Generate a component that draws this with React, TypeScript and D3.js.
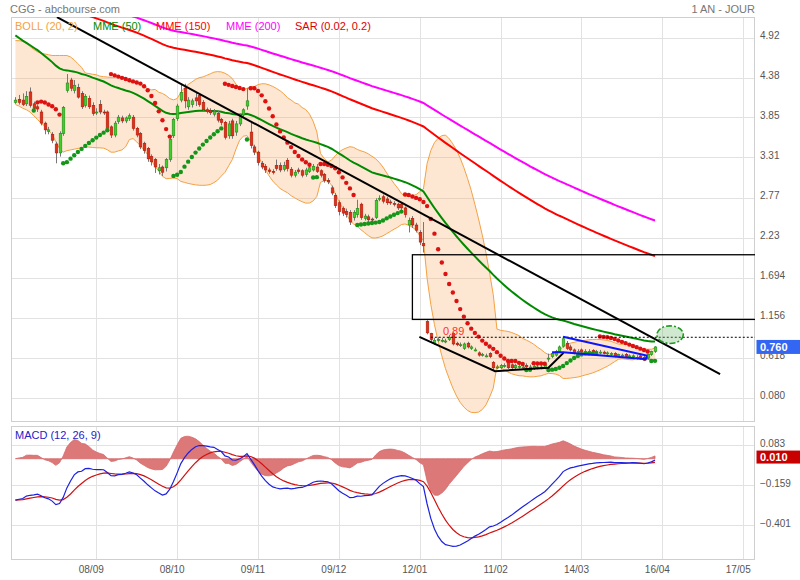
import React, { useEffect, useRef } from 'react';
import * as d3 from 'd3';

// daily bars (bar 0 = first visible session)
const opens = [
  4.05, 4.09, 4.08, 4.03, 4.19, 4.03, 3.99, 3.92, 3.77, 3.66,
  3.62, 3.49, 3.37, 3.63, 4.21, 4.35, 4.21, 4.25, 4.17, 4.01,
  4.10, 4.01, 3.91, 4.02, 3.92, 3.92, 3.72, 3.61, 3.79, 3.84,
  3.80, 3.83, 3.85, 3.70, 3.63, 3.50, 3.43, 3.32, 3.28, 3.13,
  3.18, 3.17, 3.28, 3.60, 3.83, 4.08, 4.24, 3.99, 4.02, 4.11,
  4.14, 4.05, 3.95, 3.94, 3.89, 3.90, 3.82, 3.78, 3.60, 3.80,
  3.65, 3.76, 3.88, 4.00, 3.65, 3.45, 3.38, 3.23, 3.19, 3.14,
  3.12, 3.20, 3.20, 3.15, 3.27, 3.15, 3.07, 3.14, 3.13, 3.08,
  3.12, 3.14, 3.18, 3.13, 3.08, 3.00, 2.90, 2.80, 2.70, 2.62,
  2.58, 2.57, 2.50, 2.54, 2.68, 2.49, 2.51, 2.48, 2.50, 2.76,
  2.78, 2.75, 2.71, 2.69, 2.68, 2.68, 2.63, 2.40, 2.49, 2.40,
  2.30, 2.15, 1.10, 0.94, 0.81, 0.86, 0.85, 0.84, 0.86, 0.94,
  0.81, 0.79, 0.74, 0.81, 0.74, 0.72, 0.68, 0.66, 0.64, 0.67,
  0.55, 0.49, 0.48, 0.51, 0.55, 0.52, 0.48, 0.50, 0.49, 0.51,
  0.49, 0.47, 0.49, 0.49, 0.48, 0.60, 0.63, 0.65, 0.70, 0.77,
  0.81, 0.76, 0.72, 0.70, 0.72, 0.70, 0.70, 0.71, 0.70, 0.69,
  0.69, 0.68, 0.67, 0.67, 0.64, 0.65, 0.66, 0.64, 0.64, 0.62,
  0.64, 0.62, 0.61, 0.66, 0.70,
];
const highs = [
  4.12, 4.15, 4.17, 4.20, 4.25, 4.06, 4.02, 3.95, 3.79, 3.72,
  3.65, 3.52, 3.66, 4.00, 4.43, 4.38, 4.35, 4.30, 4.20, 4.16,
  4.14, 4.05, 3.97, 4.08, 3.95, 3.94, 3.74, 3.80, 3.88, 3.87,
  3.86, 3.90, 3.88, 3.72, 3.65, 3.52, 3.45, 3.35, 3.30, 3.22,
  3.20, 3.30, 3.58, 3.84, 4.03, 4.30, 4.30, 4.12, 4.10, 4.18,
  4.16, 4.08, 3.98, 3.97, 3.96, 3.94, 3.84, 3.80, 3.80, 3.83,
  3.80, 3.90, 3.97, 4.24, 3.80, 3.48, 3.40, 3.26, 3.22, 3.17,
  3.15, 3.28, 3.24, 3.25, 3.30, 3.18, 3.14, 3.17, 3.15, 3.17,
  3.20, 3.22, 3.22, 3.15, 3.10, 3.03, 2.93, 2.83, 2.73, 2.65,
  2.62, 2.60, 2.60, 2.74, 2.70, 2.55, 2.54, 2.50, 2.76, 2.80,
  2.81, 2.78, 2.74, 2.72, 2.70, 2.70, 2.65, 2.50, 2.52, 2.43,
  2.33, 2.44, 1.12, 0.95, 0.88, 0.89, 0.88, 0.87, 0.92, 0.96,
  0.83, 0.82, 0.82, 0.83, 0.78, 0.75, 0.70, 0.68, 0.67, 0.69,
  0.57, 0.52, 0.53, 0.54, 0.57, 0.54, 0.53, 0.53, 0.52, 0.54,
  0.52, 0.52, 0.52, 0.52, 0.53, 0.67, 0.69, 0.72, 0.78, 0.90,
  0.84, 0.79, 0.74, 0.73, 0.74, 0.73, 0.73, 0.73, 0.72, 0.72,
  0.71, 0.70, 0.69, 0.69, 0.67, 0.67, 0.68, 0.66, 0.66, 0.65,
  0.66, 0.64, 0.67, 0.71, 0.77,
];
const lows = [
  4.03, 4.02, 4.00, 4.00, 3.98, 3.93, 3.92, 3.74, 3.62, 3.62,
  3.50, 3.23, 3.32, 3.60, 4.18, 4.20, 4.17, 4.10, 3.96, 3.98,
  3.96, 3.87, 3.88, 3.89, 3.88, 3.68, 3.57, 3.58, 3.76, 3.77,
  3.77, 3.80, 3.67, 3.58, 3.42, 3.36, 3.25, 3.20, 3.10, 3.08,
  3.06, 3.12, 3.25, 3.57, 3.80, 4.05, 3.97, 3.95, 3.98, 4.00,
  3.99, 3.92, 3.90, 3.88, 3.86, 3.78, 3.74, 3.55, 3.56, 3.56,
  3.60, 3.73, 3.85, 3.95, 3.43, 3.34, 3.20, 3.15, 3.10, 3.09,
  3.08, 3.13, 3.11, 3.12, 3.12, 3.04, 3.04, 3.09, 3.04, 3.05,
  3.10, 3.12, 3.10, 3.04, 2.97, 2.95, 2.80, 2.63, 2.53, 2.52,
  2.50, 2.40, 2.46, 2.50, 2.47, 2.46, 2.44, 2.44, 2.48, 2.72,
  2.69, 2.67, 2.67, 2.65, 2.60, 2.60, 2.50, 2.30, 2.36, 2.30,
  2.13, 2.03, 0.93, 0.83, 0.79, 0.83, 0.82, 0.81, 0.84, 0.78,
  0.77, 0.76, 0.72, 0.74, 0.72, 0.70, 0.63, 0.63, 0.62, 0.61,
  0.45, 0.46, 0.46, 0.48, 0.46, 0.46, 0.46, 0.47, 0.46, 0.47,
  0.46, 0.45, 0.46, 0.46, 0.46, 0.56, 0.61, 0.63, 0.68, 0.75,
  0.72, 0.70, 0.66, 0.68, 0.67, 0.67, 0.67, 0.67, 0.67, 0.66,
  0.66, 0.65, 0.64, 0.62, 0.62, 0.62, 0.61, 0.61, 0.61, 0.59,
  0.59, 0.57, 0.59, 0.64, 0.68,
];
const closes = [
  4.08, 4.05, 4.02, 4.13, 4.01, 3.97, 3.96, 3.77, 3.68, 3.68,
  3.54, 3.37, 3.63, 3.98, 4.31, 4.24, 4.28, 4.12, 3.99, 4.13,
  3.99, 3.90, 3.92, 3.92, 3.91, 3.70, 3.61, 3.77, 3.85, 3.80,
  3.84, 3.87, 3.70, 3.61, 3.45, 3.40, 3.29, 3.25, 3.18, 3.17,
  3.11, 3.28, 3.55, 3.82, 4.00, 4.18, 4.07, 4.08, 4.07, 4.07,
  4.02, 3.95, 3.93, 3.91, 3.93, 3.81, 3.78, 3.58, 3.76, 3.60,
  3.76, 3.88, 3.95, 4.07, 3.47, 3.38, 3.24, 3.18, 3.14, 3.12,
  3.11, 3.16, 3.14, 3.20, 3.16, 3.07, 3.11, 3.12, 3.07, 3.14,
  3.17, 3.19, 3.12, 3.07, 3.00, 2.98, 2.83, 2.66, 2.58, 2.56,
  2.54, 2.44, 2.57, 2.62, 2.50, 2.52, 2.47, 2.47, 2.73, 2.76,
  2.72, 2.70, 2.70, 2.68, 2.63, 2.63, 2.54, 2.46, 2.40, 2.33,
  2.17, 2.12, 0.95, 0.86, 0.85, 0.86, 0.85, 0.84, 0.89, 0.80,
  0.79, 0.79, 0.80, 0.76, 0.76, 0.72, 0.65, 0.66, 0.64, 0.63,
  0.48, 0.49, 0.51, 0.51, 0.48, 0.48, 0.51, 0.50, 0.49, 0.49,
  0.49, 0.50, 0.49, 0.49, 0.52, 0.61, 0.67, 0.70, 0.76, 0.87,
  0.74, 0.72, 0.68, 0.70, 0.69, 0.70, 0.70, 0.69, 0.70, 0.69,
  0.67, 0.68, 0.67, 0.63, 0.66, 0.65, 0.63, 0.64, 0.64, 0.62,
  0.60, 0.58, 0.66, 0.70, 0.76,
];

// bollinger band for the first 19 bars (window reaches before the chart)
const bollUpperHead = [4.88, 4.88, 4.87, 4.84, 4.8, 4.76, 4.73, 4.71, 4.7, 4.69, 4.68, 4.68, 4.68, 4.68, 4.68, 4.66, 4.62, 4.57, 4.52];
const bollLowerHead = [4.02, 4.0, 3.97, 3.95, 3.92, 3.87, 3.82, 3.77, 3.73, 3.67, 3.62, 3.52, 3.43, 3.38, 3.4, 3.41, 3.42, 3.43, 3.44];

// moving averages: period and value at bar 0
const mmePeriods = [50, 150, 200];
const mmeStart = [4.95, 5.6, 5.7];
const mmeColors = ['#008a00', '#ff0000', '#ff00ff'];

// macd (12, 26, 9): ema values at bar 0
const macdStart = [4.22, 4.47, -0.25];
const macdLast = 0.010;

// parabolic sar state at its first bar
const sarStart = { index: 5, value: 3.94, ep: 4.05, up: true };

const xTickIndex = [22, 44, 66, 88, 110, 132, 154, 176, 198];
const xTickLabels = ['08/09', '08/10', '09/11', '09/12', '12/01', '11/02', '14/03', '16/04', '17/05'];
const yTicks = [4.92, 4.38, 3.85, 3.31, 2.77, 2.23, 1.694, 1.156, 0.618, 0.080];
const yTickLabels = ['4.92', '4.38', '3.85', '3.31', '2.77', '2.23', '1.694', '1.156', '0.618', '0.080'];
const macdTicks = [0.083, -0.159, -0.401];

const legendLabels = ['BOLL (20, 2)', 'MME (50)', 'MME (150)', 'MME (200)', 'SAR (0.02, 0.2)'];
const legendColors = ['#f5a142', '#008a00', '#ff0000', '#ff00ff', '#dd0000'];

// hand-drawn annotations, as [bar index, price]
const bigTrend = [[11.3, 5.196], [191.7, 0.394]];
const lowerTrend = [[109.9, 0.896], [130.5, 0.434], [145.0, 0.479], [149.1, 0.68]];
const blueUpper = [[149.0, 0.896], [171.7, 0.643], [171.7, 0.596]];
const blueLower = [[146.0, 0.69], [149.0, 0.69], [171.7, 0.596]];
const zoneRect = { fromIndex: 108, top: 2.0, bottom: 1.13 };
const levelLine = { fromIndex: 113, value: 0.89, label: '0.89' };
const targetEllipse = { index: 178.1, value: 0.925, rIndex: 3.6, rValue: 0.118 };

const FONT = '"Liberation Sans", Arial, Helvetica, sans-serif';

function ema(vals: number[], n: number, seed: number) {
  const a = 2 / (n + 1);
  let prev = seed;
  return vals.map((v, i) => {
    prev = i === 0 ? seed : a * v + (1 - a) * prev;
    return prev;
  });
}

function computeSar() {
  const out: { i: number; v: number; up: boolean }[] = [];
  let { value: sar, ep, up } = sarStart;
  let af = 0.02;
  out.push({ i: sarStart.index, v: sar, up });
  for (let i = sarStart.index + 1; i < closes.length; i++) {
    let next = sar + af * (ep - sar);
    if (up) {
      next = Math.min(next, lows[i - 1], lows[i - 2]);
      if (lows[i] < next) {
        up = false; next = ep; ep = lows[i]; af = 0.02;
      } else if (highs[i] > ep) {
        ep = highs[i]; af = Math.min(af + 0.02, 0.2);
      }
    } else {
      next = Math.max(next, highs[i - 1], highs[i - 2]);
      if (highs[i] > next) {
        up = true; next = ep; ep = highs[i]; af = 0.02;
      } else if (lows[i] < ep) {
        ep = lows[i]; af = Math.min(af + 0.02, 0.2);
      }
    }
    sar = next;
    out.push({ i, v: sar, up });
  }
  return out;
}

export default function App() {
  const svgRef = useRef<SVGSVGElement>(null);

  useEffect(() => {
    document.body.style.margin = '0';
    if (!svgRef.current) return;
    const svg = d3.select(svgRef.current);
    svg.selectAll('*').remove();

    const L = 11, R = 755, T = 17, B = 421, MT = 426, MB = 559;
    const x = d3.scaleLinear().domain([-1.2, 201.2]).range([L, R]);
    const y = d3.scaleLinear().domain([0.08, 4.922]).range([397.5, 37.5]);
    const ym = d3.scaleLinear().domain([0.083, -0.401]).range([445, 525]);
    const idx = d3.range(closes.length);

    const defs = svg.append('defs');
    defs.append('clipPath').attr('id', 'clip-main')
      .append('rect').attr('x', L).attr('y', T).attr('width', R - L).attr('height', B - T);
    defs.append('clipPath').attr('id', 'clip-macd')
      .append('rect').attr('x', L).attr('y', MT).attr('width', R - L).attr('height', MB - MT);

    svg.append('rect').attr('width', 800).attr('height', 580).attr('fill', '#fff');

    // header
    svg.append('text').attr('x', 10).attr('y', 13).text('CGG - abcbourse.com')
      .attr('font-family', FONT).attr('font-size', 11).attr('fill', '#777');
    svg.append('text').attr('x', 755).attr('y', 13).attr('text-anchor', 'end').text('1 AN - JOUR')
      .attr('font-family', FONT).attr('font-size', 11).attr('fill', '#777');

    // grid
    const grid = svg.append('g').attr('stroke', '#e2e2e2').attr('stroke-width', 1);
    yTicks.forEach(t => {
      grid.append('line').attr('x1', L).attr('x2', R).attr('y1', Math.round(y(t)) + 0.5).attr('y2', Math.round(y(t)) + 0.5);
    });
    macdTicks.forEach(t => {
      grid.append('line').attr('x1', L).attr('x2', R).attr('y1', Math.round(ym(t)) + 0.5).attr('y2', Math.round(ym(t)) + 0.5);
    });
    xTickIndex.forEach(t => {
      const xx = Math.round(x(t)) + 0.5;
      grid.append('line').attr('x1', xx).attr('x2', xx).attr('y1', T).attr('y2', B);
      grid.append('line').attr('x1', xx).attr('x2', xx).attr('y1', MT).attr('y2', MB);
    });
    [[T, B], [MT, MB]].forEach(([a, b]) => {
      svg.append('rect').attr('x', L + 0.5).attr('y', a + 0.5).attr('width', R - L - 1).attr('height', b - a)
        .attr('fill', 'none').attr('stroke', '#cfcfcf');
    });

    const main = svg.append('g').attr('clip-path', 'url(#clip-main)');

    // bollinger (20, 2)
    const band = idx.map(i => {
      if (i < 19) return { lo: bollLowerHead[i], hi: bollUpperHead[i] };
      const w = closes.slice(i - 19, i + 1);
      const m = d3.mean(w)!;
      const sd = Math.sqrt(d3.mean(w, v => (v - m) ** 2)!);
      return { lo: m - 2 * sd, hi: m + 2 * sd };
    });
    main.append('path')
      .attr('d', d3.area<number>().x(i => x(i)).y0(i => y(band[i].lo)).y1(i => y(band[i].hi))(idx))
      .attr('fill', 'rgb(247,168,88)').attr('fill-opacity', 0.27);
    ['lo', 'hi'].forEach(k => {
      main.append('path')
        .attr('d', d3.line<number>().x(i => x(i)).y(i => y((band[i] as any)[k]))(idx))
        .attr('fill', 'none').attr('stroke', '#f5a142').attr('stroke-width', 1);
    });

    // moving averages
    [2, 1, 0].forEach(k => {
      const m = ema(closes, mmePeriods[k], mmeStart[k]);
      main.append('path')
        .attr('d', d3.line<number>().x(i => x(i)).y(i => y(m[i]))(idx))
        .attr('fill', 'none').attr('stroke', mmeColors[k]).attr('stroke-width', 2);
    });

    // candles
    const bw = 2.6;
    const candles = main.append('g');
    idx.forEach(i => {
      const up = closes[i] >= opens[i];
      const cx = Math.round(x(i)) + 0.5;
      candles.append('line').attr('x1', cx).attr('x2', cx)
        .attr('y1', y(highs[i])).attr('y2', y(lows[i]))
        .attr('stroke', '#777').attr('stroke-width', 1);
      const top = y(Math.max(opens[i], closes[i]));
      const h = Math.max(1, y(Math.min(opens[i], closes[i])) - top);
      candles.append('rect').attr('x', cx - bw / 2).attr('y', top).attr('width', bw).attr('height', h)
        .attr('fill', up ? '#3fcf2a' : '#e0301a')
        .attr('stroke', up ? '#228a18' : '#b01a0a').attr('stroke-width', 0.6);
    });

    // parabolic sar
    computeSar().forEach(d => {
      main.append('circle').attr('cx', x(d.i)).attr('cy', y(d.v)).attr('r', 2.2)
        .attr('fill', d.up ? '#14961a' : '#dd1111');
    });

    // annotations
    const pt = d3.line<number[]>().x(d => x(d[0])).y(d => y(d[1]));
    main.append('rect')
      .attr('x', x(zoneRect.fromIndex)).attr('y', y(zoneRect.top))
      .attr('width', R - x(zoneRect.fromIndex) + 5).attr('height', y(zoneRect.bottom) - y(zoneRect.top))
      .attr('fill', 'none').attr('stroke', '#000').attr('stroke-width', 1.3);
    main.append('line')
      .attr('x1', x(levelLine.fromIndex)).attr('x2', R)
      .attr('y1', y(levelLine.value)).attr('y2', y(levelLine.value))
      .attr('stroke', '#000').attr('stroke-width', 1).attr('stroke-dasharray', '2,2');
    main.append('text').attr('x', x(levelLine.fromIndex + 3.3)).attr('y', y(levelLine.value) - 2.5)
      .text(levelLine.label).attr('font-family', FONT).attr('font-size', 11).attr('fill', '#ff3030');
    main.append('path').attr('d', pt(bigTrend)).attr('fill', 'none').attr('stroke', '#000').attr('stroke-width', 2);
    main.append('path').attr('d', pt(lowerTrend)).attr('fill', 'none').attr('stroke', '#000').attr('stroke-width', 2);
    [blueUpper, blueLower].forEach(p => {
      main.append('path').attr('d', pt(p)).attr('fill', 'none').attr('stroke', '#0a14ff').attr('stroke-width', 2);
    });
    main.append('ellipse')
      .attr('cx', x(targetEllipse.index)).attr('cy', y(targetEllipse.value))
      .attr('rx', x(targetEllipse.rIndex) - x(0)).attr('ry', y(0) - y(targetEllipse.rValue))
      .attr('fill', 'rgba(120,190,120,0.35)').attr('stroke', '#1f9a1f').attr('stroke-width', 1.6)
      .attr('stroke-dasharray', '6,2,2,2');

    // legend
    const legendX = [15, 93, 156, 226, 295];
    legendLabels.forEach((lab, k) => {
      svg.append('text').attr('x', legendX[k]).attr('y', 29.5).text(lab)
        .attr('font-family', FONT).attr('font-size', 11).attr('fill', legendColors[k]);
    });

    // macd panel
    const e12 = ema(closes, 12, macdStart[0]);
    const e26 = ema(closes, 26, macdStart[1]);
    const macd = idx.map(i => e12[i] - e26[i]);
    const signal = ema(macd, 9, macdStart[2]);
    const histK = 1.25;
    const mg = svg.append('g').attr('clip-path', 'url(#clip-macd)');
    mg.append('path')
      .attr('d', d3.area<number>().x(i => x(i)).y0(ym(0)).y1(i => ym(histK * (macd[i] - signal[i])))(idx))
      .attr('fill', '#dc7878').attr('stroke', '#d66a6a').attr('stroke-width', 0.8);
    mg.append('path').attr('d', d3.line<number>().x(i => x(i)).y(i => ym(signal[i]))(idx))
      .attr('fill', 'none').attr('stroke', '#d01010').attr('stroke-width', 1.2);
    mg.append('path').attr('d', d3.line<number>().x(i => x(i)).y(i => ym(macd[i]))(idx))
      .attr('fill', 'none').attr('stroke', '#1c22e0').attr('stroke-width', 1.2);
    svg.append('text').attr('x', 15).attr('y', 438.5).text('MACD (12, 26, 9)')
      .attr('font-family', FONT).attr('font-size', 11).attr('fill', '#1c22c8');

    // axes labels
    const lab = svg.append('g').attr('font-family', FONT).attr('font-size', 10).attr('fill', '#555');
    yTicks.forEach((t, k) => {
      lab.append('text').attr('x', 760).attr('y', y(t) + 1.5).text(yTickLabels[k]);
    });
    macdTicks.forEach(t => {
      lab.append('text').attr('x', 760).attr('y', ym(t) + 1.5).text(d3.format('.3f')(t));
    });
    xTickIndex.forEach((t, k) => {
      lab.append('text').attr('x', x(t) - 5).attr('y', 573).attr('text-anchor', 'middle').text(xTickLabels[k]);
    });

    // last value boxes
    const last = closes[closes.length - 1];
    svg.append('rect').attr('x', 756.5).attr('y', y(last) - 7).attr('width', 44).attr('height', 14).attr('fill', '#3366f2');
    svg.append('text').attr('x', 760).attr('y', y(last) + 4).text(d3.format('.3f')(last))
      .attr('font-family', FONT).attr('font-size', 11).attr('font-weight', 'bold').attr('fill', '#fff');
    svg.append('rect').attr('x', 756.5).attr('y', ym(macdLast) - 6.5).attr('width', 44).attr('height', 13).attr('fill', '#c80000');
    svg.append('text').attr('x', 760).attr('y', ym(macdLast) + 4).text(d3.format('.3f')(macdLast))
      .attr('font-family', FONT).attr('font-size', 11).attr('font-weight', 'bold').attr('fill', '#fff');
  }, []);

  return <svg ref={svgRef} width={800} height={580} style={{ display: 'block' }} />;
}
